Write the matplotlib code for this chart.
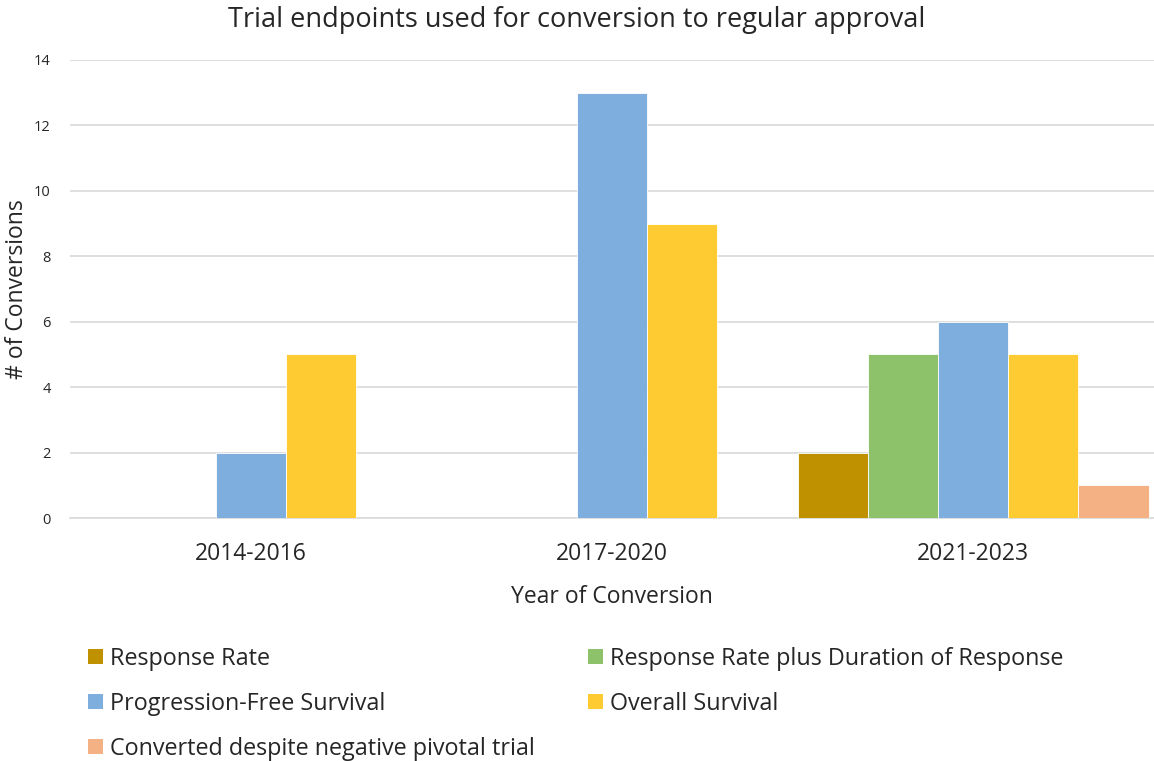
import numpy as np
import matplotlib.pyplot as plt
from matplotlib.patches import Patch

plt.rcParams['font.family'] = ['Open Sans', 'DejaVu Sans']

periods = ['2014-2016', '2017-2020', '2021-2023']
series = ['Response Rate', 'Response Rate plus Duration of Response',
          'Progression-Free Survival', 'Overall Survival',
          'Converted despite negative pivotal trial']
response_rate = [0, 0, 2]
rr_plus_dor = [0, 0, 5]
pfs = [2, 13, 6]
os_ = [5, 9, 5]
negative_trial = [0, 0, 1]
colors = ['#BF9000', '#8DC26B', '#7DAEDE', '#FFCB33', '#F4B183']

values = [response_rate, rr_plus_dor, pfs, os_, negative_trial]

fig = plt.figure(figsize=(11.54, 7.61), dpi=100)
ax = fig.add_axes([0.0607, 0.3193, 0.9393, 0.6019])

x = np.arange(len(periods))
width = 0.194
for i, (vals, col) in enumerate(zip(values, colors)):
    ax.bar(x + (i - 2) * width, vals, width, color=col,
           edgecolor='white', linewidth=0.6, zorder=3)

ax.set_xlim(-0.5, 2.5)
ax.set_ylim(0, 14)
ax.set_yticks(range(0, 15, 2))
ax.grid(axis='y', color='#D9D9D9', linewidth=1.2, zorder=0)
for s in ['top', 'right', 'left']:
    ax.spines[s].set_visible(False)
ax.spines['bottom'].set_color('#D9D9D9')
ax.spines['bottom'].set_linewidth(1.2)
ax.tick_params(axis='y', length=0, labelsize=10.5, pad=14, colors='#262626')
ax.tick_params(axis='x', length=0, labelsize=16.5, pad=17, colors='#262626')
ax.set_xticks(x)
ax.set_xticklabels(periods)

ax.set_xlabel('Year of Conversion', fontsize=16.5, color='#262626', labelpad=14)
fig.text(0.015, 0.62, '# of Conversions', rotation=90, fontsize=16.5,
         color='#262626', ha='center', va='center')
fig.suptitle('Trial endpoints used for conversion to regular approval',
             fontsize=19.5, color='#262626', y=0.992)

handles = [Patch(facecolor=c, label=s) for c, s in zip(colors, series)]
order = [0, 2, 4, 1, 3]
fig.legend([handles[i] for i in order], [series[i] for i in order],
           ncol=2, loc='upper left', bbox_to_anchor=(0.0763, 0.150),
           borderaxespad=0, borderpad=0,
           frameon=False, fontsize=16.8, handlelength=0.65, handleheight=0.65,
           handletextpad=0.3, columnspacing=2.25, labelspacing=0.9,
           labelcolor='#262626')

fig.savefig('out.png', dpi=100)
